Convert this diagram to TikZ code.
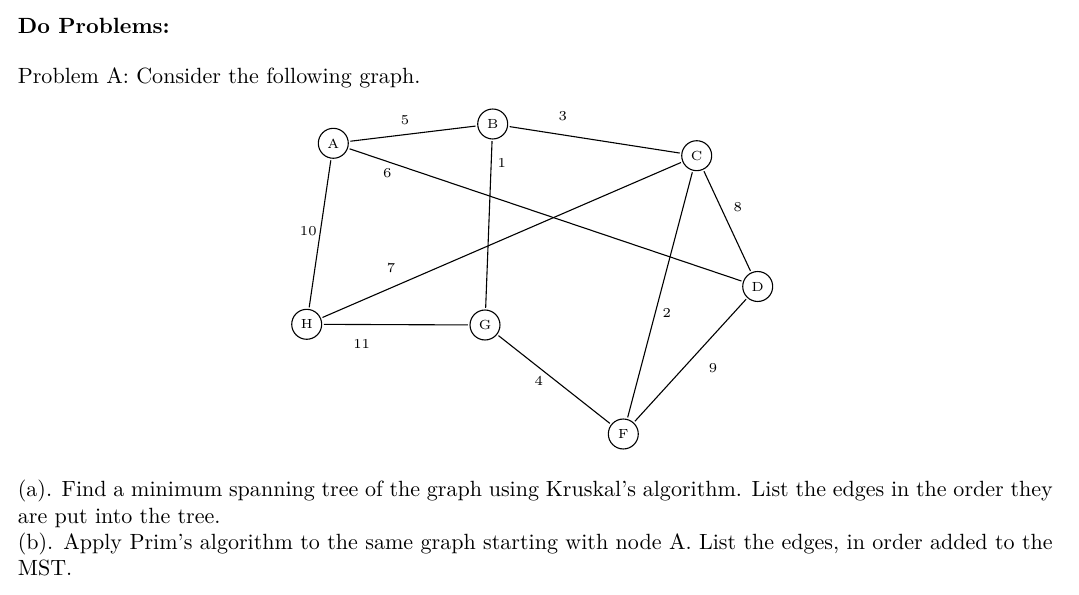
\documentclass[tikz,border=0pt]{standalone}
\begin{document}
\begin{tikzpicture}[x=0.4539pt, y=-0.4539pt, line width=0.5pt,
  vertex/.style={draw, circle, minimum size=13.6pt, inner sep=0pt, outer sep=1pt,
    font=\fontsize{6}{7}\selectfont},
  weight/.style={inner sep=0pt, font=\fontsize{6.2}{7}\selectfont}]
  \useasboundingbox (0,0) rectangle (1079,595);

  % Encabezado
  \node[anchor=base west, inner sep=0pt] (head) at (17.3,33.3) {\textbf{Do Problems:}};
  \node[anchor=base west, inner sep=0pt] (intro) at (17.3,84) {Problem A: Consider the following graph.};

  % Vertices
  \node[vertex] (A) at (333.3,143.3) {A};
  \node[vertex] (B) at (492.7,124) {B};
  \node[vertex] (C) at (696.7,155.7) {C};
  \node[vertex] (D) at (757.7,286.5) {D};
  \node[vertex] (H) at (306.7,324.3) {H};
  \node[vertex] (G) at (485,325) {G};
  \node[vertex] (F) at (623.3,434) {F};

  % Aristas
  \draw (A) -- (B);
  \draw (B) -- (C);
  \draw (A) -- (D);
  \draw (B) -- (G);
  \draw (C) -- (D);
  \draw (A) -- (H);
  \draw (H) -- (C);
  \draw (C) -- (F);
  \draw (H) -- (G);
  \draw (G) -- (F);
  \draw (F) -- (D);

  % Pesos
  \node[weight] (wAB) at (405,120) {5};
  \node[weight] (wBC) at (562.7,116) {3};
  \node[weight] (wAD) at (387.3,173.3) {6};
  \node[weight] (wBG) at (501.7,163.3) {1};
  \node[weight] (wCD) at (737.7,207.3) {8};
  \node[weight] (wAH) at (308.3,230.7) {10};
  \node[weight] (wHC) at (391,267.7) {7};
  \node[weight] (wCF) at (666.7,313) {2};
  \node[weight] (wHG) at (361.7,344.3) {11};
  \node[weight] (wGF) at (538.7,381) {4};
  \node[weight] (wFD) at (713,368.3) {9};

  % Preguntas
  \node[anchor=north west, inner sep=0pt, text width=469.75pt, align=justify] (parts) at (17.3,479.5)
    {(a). Find a minimum spanning tree of the graph using Kruskal's algorithm. List the edges in the order they are put into the tree.\\
     (b). Apply Prim's algorithm to the same graph starting with node A. List the edges, in order added to the MST.};
\end{tikzpicture}
\end{document}
